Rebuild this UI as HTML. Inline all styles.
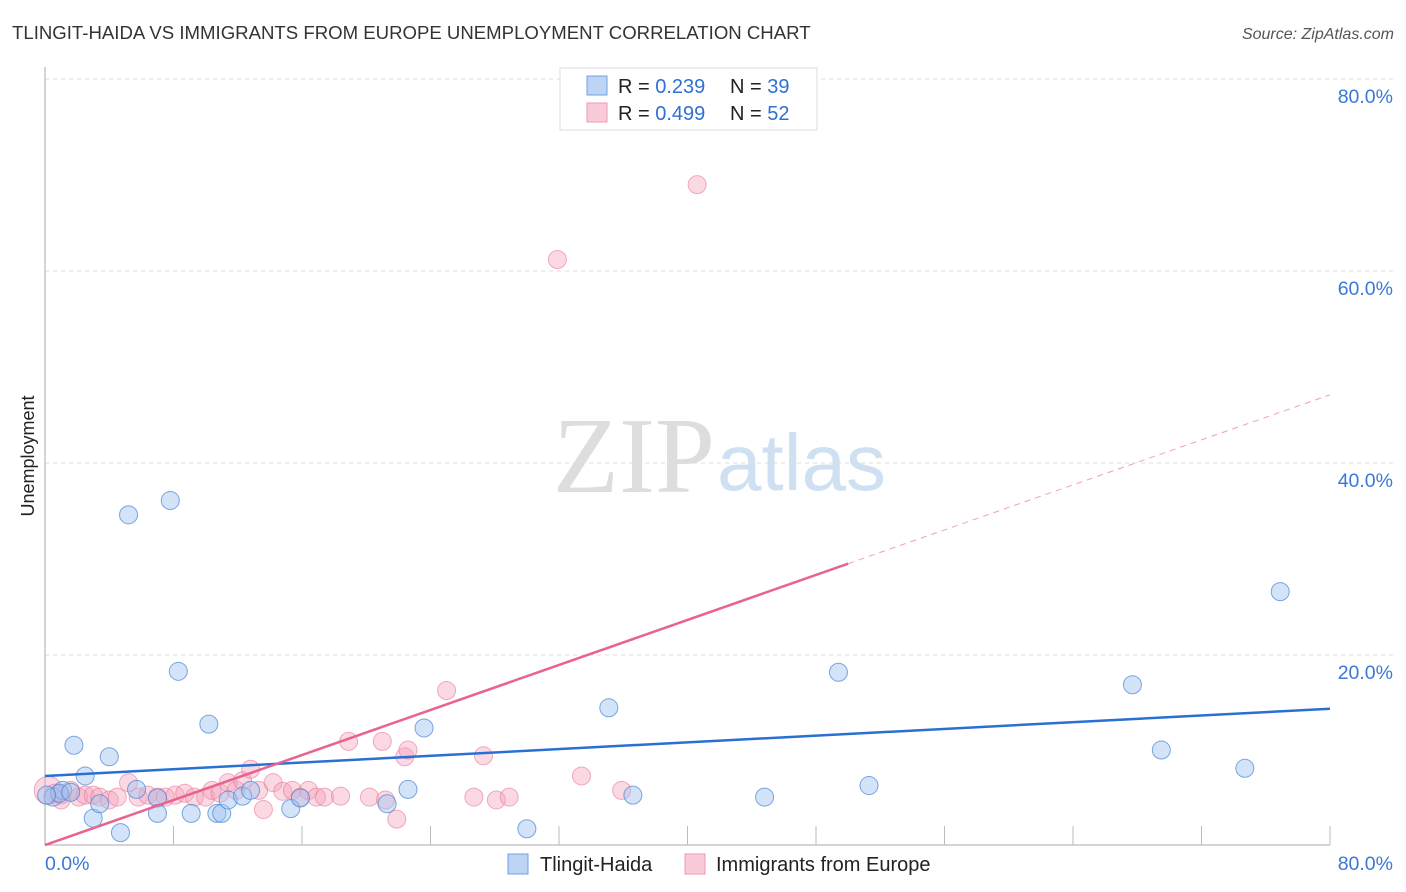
<!DOCTYPE html>
<html><head><meta charset="utf-8">
<style>
body{margin:0;background:#fff;font-family:"Liberation Sans",sans-serif;}
#wrap{position:relative;width:1406px;height:892px;overflow:hidden;}
</style></head>
<body>
<div id="wrap">
<svg id="svg" width="1406" height="892" xmlns="http://www.w3.org/2000/svg">
<text x="12" y="39" font-size="18.6" fill="#333">TLINGIT-HAIDA VS IMMIGRANTS FROM EUROPE UNEMPLOYMENT CORRELATION CHART</text>
<text x="1394" y="39" font-size="16" fill="#555" font-style="italic" text-anchor="end">Source: ZipAtlas.com</text>
<text x="0" y="0" font-size="18" fill="#222" transform="translate(34,456) rotate(-90)" text-anchor="middle">Unemployment</text>
<text x="553" y="492" font-size="108" fill="#ddd" font-family="Liberation Serif,serif">ZIP</text>
<text x="717" y="490" font-size="80" fill="#cfe0f3">atlas</text>
<g id="grid"></g><g id="pts"></g><g id="lines"></g>
<g>
<rect x="560" y="68" width="257" height="62" fill="#fff" stroke="#ddd"/>
<rect x="587" y="76" width="20" height="19" fill="#bcd5f5" stroke="#6f9fe0"/>
<rect x="587" y="103" width="20" height="19" fill="#f9cbd8" stroke="#ee9ab3"/>
<text x="618" y="93" font-size="20" fill="#222">R = <tspan fill="#2f6fd6">0.239</tspan><tspan x="730">N = </tspan><tspan fill="#2f6fd6">39</tspan></text>
<text x="618" y="120" font-size="20" fill="#222">R = <tspan fill="#2f6fd6">0.499</tspan><tspan x="730">N = </tspan><tspan fill="#2f6fd6">52</tspan></text>
</g>
<g>
<rect x="508" y="854" width="20" height="20" fill="#bcd5f5" stroke="#6f9fe0"/>
<text x="540" y="871" font-size="20" fill="#222">Tlingit-Haida</text>
<rect x="685" y="854" width="20" height="20" fill="#f9cbd8" stroke="#ee9ab3"/>
<text x="716" y="871" font-size="20" fill="#222">Immigrants from Europe</text>
</g>
</svg>
</div>
<script>
const xTicks=[0,8,16,24,32,40,48,56,64,72,80];
const yTicks=[20,40,60,80];
const blueX=[0.5,1.1,1.8,2.5,3.0,4.0,3.4,4.7,5.2,5.7,7.0,7.0,7.8,8.3,9.1,10.2,10.7,11.0,11.4,12.3,12.8,15.3,15.9,21.3,22.6,23.6,30.0,35.1,36.6,44.8,49.4,51.3,67.7,69.5,74.7,76.9,0.9,0.1,1.6];
const blueY=[5.2,5.9,10.6,7.4,3.0,9.4,4.5,1.5,34.6,6.0,5.1,3.5,36.1,18.3,3.5,12.8,3.5,3.5,4.9,5.3,5.9,4.0,5.1,4.5,6.0,12.4,1.9,14.5,5.4,5.2,18.2,6.4,16.9,10.1,8.2,26.6,5.6,5.4,5.7];
const pinkX=[0.2,0.6,1.0,1.6,2.1,2.5,3.0,3.4,4.0,4.5,5.2,5.8,6.4,7.0,7.5,8.1,8.7,9.3,10.0,10.4,10.9,11.4,11.9,12.3,12.8,13.3,13.6,14.2,14.8,15.4,15.9,16.4,16.9,17.4,18.4,18.9,20.2,21.0,21.2,21.9,22.4,22.6,25.0,26.7,27.3,28.1,28.9,33.4,35.9,31.9,40.6,1.0];
const pinkY=[5.9,5.6,5.4,5.9,5.2,5.4,5.4,5.2,4.9,5.2,6.7,5.2,5.4,5.2,5.2,5.4,5.6,5.2,5.2,5.9,5.6,6.7,5.9,6.9,8.1,5.9,3.9,6.7,5.8,5.9,5.2,5.9,5.2,5.2,5.3,11.0,5.2,11.0,4.9,2.9,9.4,10.1,16.3,5.2,9.5,4.9,5.2,7.4,5.9,61.2,69.0,4.9];
const trendB=[7.4,14.4], trendP=[0.2,47.1], pinkSolidEnd=50;
const X=v=>45+v/80*1285, Y=v=>847-v/20*192;
const NS='http://www.w3.org/2000/svg';
function mk(t,a,p){const e=document.createElementNS(NS,t);for(const k in a)e.setAttribute(k,a[k]);p.appendChild(e);return e;}
const grid=document.getElementById('grid'),pts=document.getElementById('pts'),lines=document.getElementById('lines');
yTicks.forEach(v=>{
 const l=mk('line',{x1:45,x2:1395,y1:Y(v),y2:Y(v),stroke:'#ddd','stroke-dasharray':'4,4'},grid);
 
 
 const t=mk('text',{x:1393,y:Y(v)+24,'font-size':19.5,fill:'#3a78d8','text-anchor':'end'},grid);t.textContent=v.toFixed(1)+'%';
 
 
});
mk('line',{x1:45,x2:45,y1:67,y2:845,stroke:'#aaa'},grid);
mk('line',{x1:45,x2:1330,y1:845,y2:845,stroke:'#aaa'},grid);
xTicks.forEach((v,i)=>{if(i>0){const l=mk('line',{x1:X(v),x2:X(v),y1:826,y2:845,stroke:'#bbb'},grid);
 
 }});
[[0,'start',45],[80,'end',1393]].forEach(([v,a,x])=>{const t=mk('text',{x:x,y:870,'font-size':19.5,fill:'#3a78d8','text-anchor':a},grid);t.textContent=v.toFixed(1)+'%';
 
 });
pinkX.forEach((x,i)=>{const c=mk('circle',{cx:X(x),cy:Y(pinkY[i]),r:i==0?14:9,fill:'rgba(244,160,186,0.4)',stroke:'rgba(232,120,155,0.6)'},pts);
 
 });
blueX.forEach((x,i)=>{const c=mk('circle',{cx:X(x),cy:Y(blueY[i]),r:9,fill:'rgba(160,196,240,0.45)',stroke:'rgba(70,130,215,0.7)'},pts);
 
 });
const lb=mk('line',{x1:X(0),y1:Y(trendB[0]),x2:X(80),y2:Y(trendB[1]),stroke:'#2a6fd3','stroke-width':2.5},lines);


const py=x=>trendP[0]+(trendP[1]-trendP[0])*x/80;
const lp=mk('line',{x1:X(0),y1:Y(py(0)),x2:X(pinkSolidEnd),y2:Y(py(pinkSolidEnd)),stroke:'#e8648f','stroke-width':2.5},lines);


const ld=mk('line',{x1:X(pinkSolidEnd),y1:Y(py(pinkSolidEnd)),x2:X(80),y2:Y(py(80)),stroke:'#eea0b8','stroke-width':1,'stroke-dasharray':'6,5'},lines);


</script>
</body></html>
